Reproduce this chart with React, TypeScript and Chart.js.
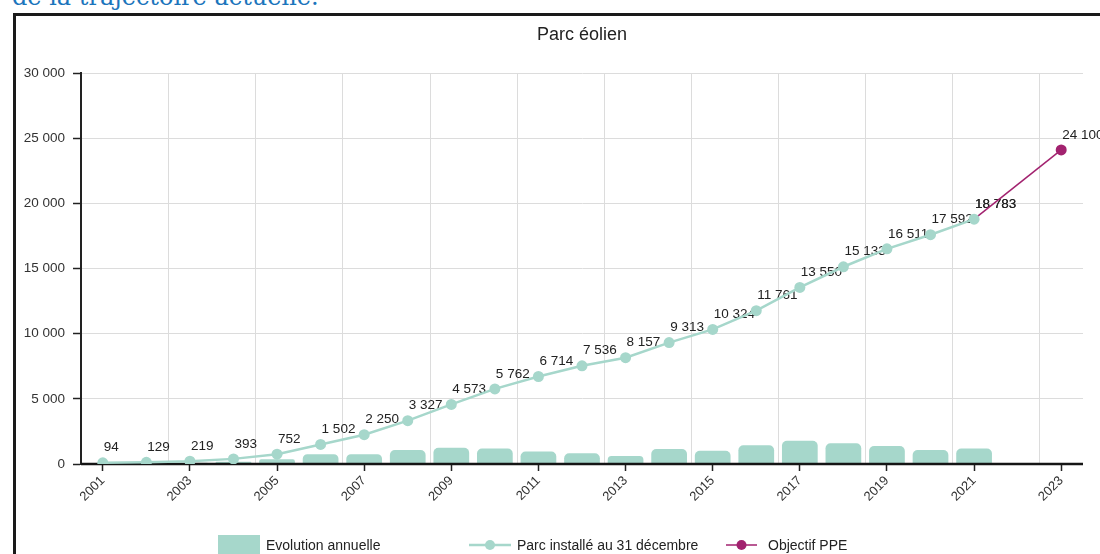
import React, { useEffect, useRef } from "react";
import { Chart, registerables } from "chart.js";

Chart.register(...registerables);

// Years on the x axis
const years: string[] = [
  "2001", "2002", "2003", "2004", "2005", "2006", "2007", "2008", "2009", "2010", "2011", "2012",
  "2013", "2014", "2015", "2016", "2017", "2018", "2019", "2020", "2021", "2022", "2023",
];

// Annual additions (MW)
const evolutionAnnuelle: (number | null)[] = [
  null, 35, 90, 174, 359, 750, 748, 1077, 1246, 1189, 952, 822,
  621, 1156, 1011, 1437, 1789, 1583, 1378, 1081, 1191, null, null,
];

// Installed capacity at 31 December (MW)
const parcInstalle: (number | null)[] = [
  94, 129, 219, 393, 752, 1502, 2250, 3327, 4573, 5762, 6714, 7536,
  8157, 9313, 10324, 11761, 13550, 15133, 16511, 17592, 18783, null, null,
];

// PPE target path
const objectifPPE: (number | null)[] = [
  null, null, null, null, null, null, null, null, null, null, null, null,
  null, null, null, null, null, null, null, null, 18783, null, 24100,
];

const yTicks: number[] = [0, 5000, 10000, 15000, 20000, 25000, 30000];

const TEAL = "#a6d7cb";
const PURPLE = "#a2226f";
const FONT = "'Liberation Sans', Arial, sans-serif";

const fmt = (v: number) => String(Math.round(v)).replace(/\B(?=(\d{3})+(?!\d))/g, " ");

const decorPlugin = {
  id: "decor",
  beforeDatasetsDraw(chart: any) {
    const { ctx, chartArea } = chart;
    const x = chart.scales.x;
    const step = x.width / years.length;
    ctx.save();
    ctx.strokeStyle = "#dcdcdc";
    ctx.lineWidth = 1;
    for (let i = 2; i < years.length; i += 2) {
      const px = Math.round(x.getPixelForValue(i) - step / 2) + 0.5;
      ctx.beginPath();
      ctx.moveTo(px, chartArea.top);
      ctx.lineTo(px, chartArea.bottom - 1);
      ctx.stroke();
    }
    ctx.restore();
  },
  afterDatasetDraw(chart: any, args: any) {
    if (args.index !== 0) return;
    const { ctx, chartArea } = chart;
    ctx.save();
    // x axis baseline, above the bars but below the lines
    ctx.strokeStyle = "#151515";
    ctx.lineWidth = 2.5;
    ctx.beginPath();
    ctx.moveTo(chartArea.left, chartArea.bottom);
    ctx.lineTo(chartArea.right, chartArea.bottom);
    ctx.stroke();

    // value labels
    ctx.font = `13.5px ${FONT}`;
    ctx.fillStyle = "#222";
    ctx.textAlign = "left";
    ctx.textBaseline = "middle";
    const drawLabels = (dsIndex: number, values: (number | null)[]) => {
      const meta = chart.getDatasetMeta(dsIndex);
      values.forEach((v, i) => {
        if (v == null) return;
        const pt = meta.data[i];
        ctx.fillText(fmt(v), pt.x + 1, pt.y - 15);
      });
    };
    drawLabels(1, parcInstalle);
    drawLabels(2, objectifPPE);
    ctx.restore();
  },
  afterDraw(chart: any) {
    const { ctx, chartArea } = chart;
    ctx.save();
    // title
    ctx.font = `18px ${FONT}`;
    ctx.fillStyle = "#222";
    ctx.textAlign = "center";
    ctx.textBaseline = "middle";
    ctx.fillText("Parc éolien", (chartArea.left + chartArea.right) / 2, 35);

    // legend
    const ly = 546;
    ctx.font = `14px ${FONT}`;
    ctx.textAlign = "left";
    ctx.fillStyle = TEAL;
    ctx.fillRect(218, 535, 42, 24);
    ctx.fillStyle = "#222";
    ctx.fillText(chart.data.datasets[0].label, 266, ly);

    const lineItem = (x0: number, x1: number, color: string, w: number, tx: number, text: string) => {
      ctx.strokeStyle = color;
      ctx.lineWidth = w;
      ctx.beginPath();
      ctx.moveTo(x0, ly - 1);
      ctx.lineTo(x1, ly - 1);
      ctx.stroke();
      ctx.fillStyle = color;
      ctx.beginPath();
      ctx.arc((x0 + x1) / 2, ly - 1, 5, 0, Math.PI * 2);
      ctx.fill();
      ctx.fillStyle = "#222";
      ctx.fillText(text, tx, ly);
    };
    lineItem(469, 511, TEAL, 2.5, 517, chart.data.datasets[1].label);
    lineItem(726, 757, PURPLE, 1.5, 768, chart.data.datasets[2].label);
    ctx.restore();
  },
};

export default function App() {
  const canvasRef = useRef<HTMLCanvasElement | null>(null);

  useEffect(() => {
    if (!canvasRef.current) return;
    const chart = new Chart(canvasRef.current, {
      type: "bar",
      data: {
        labels: years,
        datasets: [
          {
            type: "bar",
            label: "Evolution annuelle",
            data: evolutionAnnuelle,
            backgroundColor: TEAL,
            borderWidth: 0,
            borderRadius: { topLeft: 5, topRight: 5, bottomLeft: 0, bottomRight: 0 },
            borderSkipped: false,
            categoryPercentage: 0.82,
            barPercentage: 1,
            order: 3,
          },
          {
            type: "line",
            label: "Parc installé au 31 décembre",
            data: parcInstalle,
            borderColor: TEAL,
            backgroundColor: TEAL,
            borderWidth: 2.5,
            pointRadius: 5.5,
            pointBorderWidth: 0,
            tension: 0,
            order: 1,
          },
          {
            type: "line",
            label: "Objectif PPE",
            data: objectifPPE,
            borderColor: PURPLE,
            backgroundColor: PURPLE,
            borderWidth: 1.5,
            pointRadius: (c: any) => (c.dataIndex === 22 ? 5.5 : 0),
            pointBorderWidth: 0,
            spanGaps: true,
            tension: 0,
            order: 2,
          },
        ],
      },
      options: {
        responsive: false,
        animation: false,
        events: [],
        layout: { padding: { top: 73, right: 17, bottom: 0, left: 0 } },
        plugins: {
          legend: { display: false },
          title: { display: false },
          tooltip: { enabled: false },
        },
        scales: {
          x: {
            offset: true,
            grid: {
              offset: false,
              drawOnChartArea: false,
              tickLength: 7,
              tickColor: "#222",
              tickWidth: 1.5,
            },
            border: { display: false },
            ticks: {
              autoSkip: false,
              maxRotation: 45,
              minRotation: 45,
              padding: 2,
              color: "#333",
              font: { size: 13, family: FONT },
              callback: (_v: any, i: number) => (i % 2 === 0 ? years[i] : null),
            },
            afterFit: (s: any) => {
              s.height = 90;
            },
          },
          y: {
            min: 0,
            max: 30000,
            afterBuildTicks: (s: any) => {
              s.ticks = yTicks.map((v) => ({ value: v }));
            },
            grid: {
              color: "#dcdcdc",
              lineWidth: 1,
              tickLength: 8,
              tickColor: "#222",
              tickWidth: 1.5,
            },
            border: { color: "#222", width: 2 },
            ticks: {
              padding: 8,
              color: "#333",
              font: { size: 13.5, family: FONT },
              callback: (v: any) => fmt(Number(v)),
            },
            afterFit: (s: any) => {
              s.width = 81;
            },
          },
        },
      },
      plugins: [decorPlugin],
    } as any);
    return () => chart.destroy();
  }, []);

  return (
    <div
      style={{
        position: "fixed",
        left: 0,
        top: 0,
        width: 1100,
        height: 554,
        overflow: "hidden",
        background: "#fff",
      }}
    >
      <div
        style={{
          position: "absolute",
          left: 12,
          top: -15,
          fontFamily: "'DejaVu Serif', serif",
          fontSize: 24,
          lineHeight: "24px",
          color: "#1b75bc",
          whiteSpace: "nowrap",
        }}
      >
        de la trajectoire actuelle.
      </div>
      <div
        style={{
          position: "absolute",
          left: 13,
          top: 13,
          width: 1200,
          height: 700,
          borderLeft: "3px solid #1a1a1a",
          borderTop: "3px solid #1a1a1a",
        }}
      />
      <canvas
        ref={canvasRef}
        width={1100}
        height={554}
        style={{ position: "absolute", left: 0, top: 0, width: 1100, height: 554 }}
      />
    </div>
  );
}
